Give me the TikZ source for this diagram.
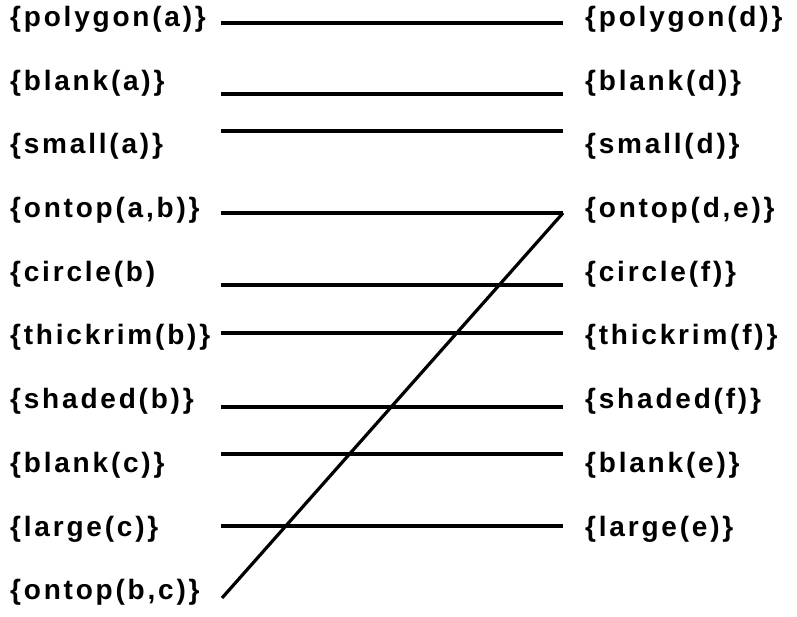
\documentclass[tikz,border=0pt]{standalone}
\usepackage{fontspec}
\newfontfamily\labelfont{Liberation Sans}[LetterSpace=10]

\begin{document}
\begin{tikzpicture}[x=1pt, y=-1pt,
    lbl/.style={font=\labelfont\bfseries\fontsize{28}{32}\selectfont, inner sep=0pt, anchor=west},
    link/.style={line width=3.2pt}]
  \useasboundingbox (0,0) rectangle (797,617);
  % left column
  \node[lbl] (la1) at (10,19) {\{polygon(a)\}};
  \node[lbl] (la2) at (10,83) {\{blank(a)\}};
  \node[lbl] (la3) at (10,146) {\{small(a)\}};
  \node[lbl] (la4) at (10,210) {\{ontop(a,b)\}};
  \node[lbl] (la5) at (10,274) {\{circle(b)};
  \node[lbl] (la6) at (10,337) {\{thickrim(b)\}};
  \node[lbl] (la7) at (10,401) {\{shaded(b)\}};
  \node[lbl] (la8) at (10,465) {\{blank(c)\}};
  \node[lbl] (la9) at (10,529) {\{large(c)\}};
  \node[lbl] (la10) at (10,592) {\{ontop(b,c)\}};
  % right column
  \node[lbl] (rd1) at (585,19) {\{polygon(d)\}};
  \node[lbl] (rd2) at (585,83) {\{blank(d)\}};
  \node[lbl] (rd3) at (585,146) {\{small(d)\}};
  \node[lbl] (rd4) at (585,210) {\{ontop(d,e)\}};
  \node[lbl] (rd5) at (585,274) {\{circle(f)\}};
  \node[lbl] (rd6) at (585,337) {\{thickrim(f)\}};
  \node[lbl] (rd7) at (585,401) {\{shaded(f)\}};
  \node[lbl] (rd8) at (585,465) {\{blank(e)\}};
  \node[lbl] (rd9) at (585,529) {\{large(e)\}};
  % matching lines
  \foreach \i/\y in {1/23, 2/94, 3/131, 4/213, 5/285, 6/333, 7/407, 8/454, 9/526} {
    \coordinate (ls\i) at (221,\y);
    \coordinate (rs\i) at (563,\y);
    \draw[link] (ls\i) -- (rs\i);
  }
  \coordinate (ls10) at (222,598);
  \draw[link, line join=miter] (rs4) -- (ls10);
\end{tikzpicture}
\end{document}
